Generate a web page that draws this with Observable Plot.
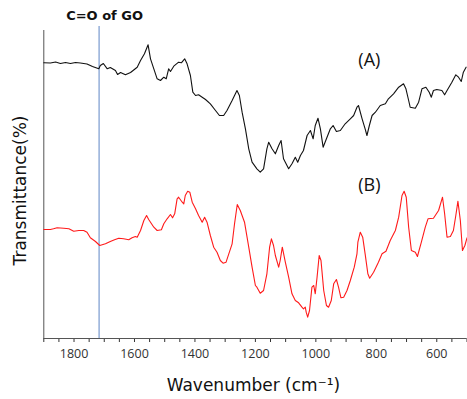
<!DOCTYPE html>
<html>
<head>
<meta charset="utf-8">
<script src="https://cdn.jsdelivr.net/npm/d3@7"></script>
<script src="https://cdn.jsdelivr.net/npm/@observablehq/plot@0.6"></script>
<style>
  html, body { margin: 0; padding: 0; background: #ffffff; }
</style>
</head>
<body>
<div id="chart"></div>
<script>
// Spectrum (A): wavenumber (cm-1) and transmittance (arbitrary, offset)
const wavenumberA = [1900,1878,1861,1845,1828,1812,1795,1779,1757,1739,1718,1713,1703,1690,1680,1663,1656,1646,1630,1613,1591,1580,1567,1555,1547,1536,1525,1514,1503,1495,1487,1481,1470,1454,1445,1434,1426,1415,1407,1398,1388,1376,1365,1349,1332,1319,1305,1294,1277,1261,1253,1244,1233,1222,1211,1195,1184,1173,1162,1156,1145,1134,1123,1115,1107,1090,1079,1068,1060,1051,1041,1029,1018,1009,1002,993,985,976,965,952,943,932,919,903,886,875,864,859,847,837,831,823,814,803,787,770,760,743,726,710,702,693,688,671,660,649,636,625,618,611,600,583,574,566,550,537,528,519,512,503];
const transA = [275.7,275.5,276.5,275,276,275,276,275.5,274.5,272,269.7,273,275,269.7,271,268,264,266,263.7,266,271.3,278,284.7,293.7,279.7,269.7,259.7,258,261.3,259.7,269.7,267,272.3,276.3,275.7,279.7,274.7,263,246.3,243,243.7,241.3,239,234.7,228,223,223,228,238,248,243,226.3,209.7,189.7,176.3,169.7,166.3,169.7,189.7,196.3,189.7,184.7,193,198,179.7,169.7,174.7,181.3,176.3,183,188,203,208,199.7,213,220.3,209.7,191.3,199.7,209.7,213,207,208,214.7,219.7,223,231.3,233,219.7,209.7,203,213,223,226.3,233,234.7,239.7,244.7,251.3,254.7,249.7,238,231.3,230.3,236.3,249.7,251.3,246.3,241.3,248,249,248,243.7,248,256.3,263.7,261.3,257,266.3,271.3];

// Spectrum (B)
const wavenumberB = [1900,1878,1868,1856,1834,1817,1801,1784,1768,1757,1746,1729,1715,1696,1680,1666,1652,1636,1619,1608,1597,1591,1580,1569,1560,1553,1547,1536,1525,1511,1503,1492,1481,1474,1467,1459,1454,1442,1437,1432,1424,1417,1409,1398,1388,1376,1368,1360,1349,1338,1327,1316,1307,1297,1288,1277,1269,1260,1250,1236,1222,1211,1200,1195,1184,1173,1162,1153,1147,1140,1134,1123,1118,1111,1101,1090,1079,1068,1057,1046,1041,1035,1032,1027,1021,1013,1007,1002,996,989,983,974,965,958,949,941,932,925,917,908,897,886,873,864,861,853,845,837,828,822,809,793,781,768,754,737,726,715,708,701,693,684,671,664,651,638,629,611,594,581,574,566,555,545,537,530,522,515,507,500];
const transB = [109,109,109.7,110.7,110.3,109.7,107.3,108,108,106.3,100.7,97,93,94.7,97,98.7,100.3,99.7,98.7,100.7,102,101.3,108,118,123,119,116.3,111.3,108,108.7,114.7,119.7,124,120.7,124.7,139.7,141.3,136.3,134.7,143,147.3,146.3,136.3,129.7,123,116.3,121.3,116.3,103,91.3,86.3,78,75.3,76.3,84.7,94.7,114.7,134,128,116.3,91.3,71.3,53,51.3,45.3,48,64.7,91.3,99.7,93,83,71.3,78,91.3,76.3,61.3,44.7,38,35.7,31.3,29.7,31.3,26.3,21.3,28,51.3,53,44.7,61.3,83,78,48,33,31.3,38,54.7,59,51.3,40.7,41.3,48,58,71.3,84.7,96.3,106.3,101.3,84.7,64.7,60.3,66.3,76.3,84.7,87.3,98,108,121.3,143,147.3,141.3,111.3,88,86.3,82,96.3,111.3,119.7,120.3,128,141.3,124.7,101.3,102,108,123,137.3,118,88,93,100.7];

const xTicks = d3.range(500, 1901, 50);
const xTickLabels = [1800, 1600, 1400, 1200, 1000, 800, 600];
const coBand = [1717];
const titleText = "C=O of GO";
const seriesLabels = ["(A)", "(B)"];
const xLabel = "Wavenumber (cm\u207B\u00B9)";
const yLabel = "Transmittance(%)";

const dataA = wavenumberA.map((w, i) => ({w, t: transA[i]}));
const dataB = wavenumberB.map((w, i) => ({w, t: transB[i]}));

const font = "'Open Sans', 'Noto Sans', sans-serif";
const wideFont = "'DejaVu Sans', sans-serif";

const chart = Plot.plot({
  width: 467,
  height: 399,
  marginLeft: 43.3,
  marginRight: 0.5,
  marginTop: 30,
  marginBottom: 61,
  style: {fontFamily: font, fontSize: "12.5px", color: "#333", background: "#ffffff"},
  x: {
    domain: [1900, 500],
    ticks: xTicks,
    tickFormat: d => xTickLabels.includes(d) ? String(d) : "",
    tickSize: 4,
    tickPadding: 7,
    label: null
  },
  y: {domain: [0, 308], axis: null},
  marks: [
    Plot.ruleX(coBand, {y1: 0, y2: 312, stroke: "#9ab3db", strokeWidth: 1.6}),
    Plot.ruleY([0], {stroke: "#555"}),
    Plot.ruleX([1900], {stroke: "#555"}),
    Plot.line(dataA, {x: "w", y: "t", stroke: "#111", strokeWidth: 1.1}),
    Plot.line(dataB, {x: "w", y: "t", stroke: "#ff1a1a", strokeWidth: 1.1}),
    Plot.text([titleText], {x: [1699], y: [323], text: d => d, fontFamily: wideFont, fontWeight: "bold", fontSize: 13, fill: "#111"}),
    Plot.text(seriesLabels, {x: [823, 823], y: [278, 153], text: d => d, fontSize: 18, fill: "#111"}),
    Plot.text([xLabel], {frameAnchor: "bottom", lineAnchor: "middle", textAnchor: "middle", dx: -2, dy: 47, text: d => d, fontFamily: wideFont, fontSize: 17, fill: "#111"}),
    Plot.text([yLabel], {frameAnchor: "left", textAnchor: "middle", lineAnchor: "middle", dx: -23, dy: 6, rotate: -90, text: d => d, fontFamily: wideFont, fontSize: 17, fill: "#111"})
  ]
});

document.getElementById("chart").appendChild(chart);
</script>
</body>
</html>
